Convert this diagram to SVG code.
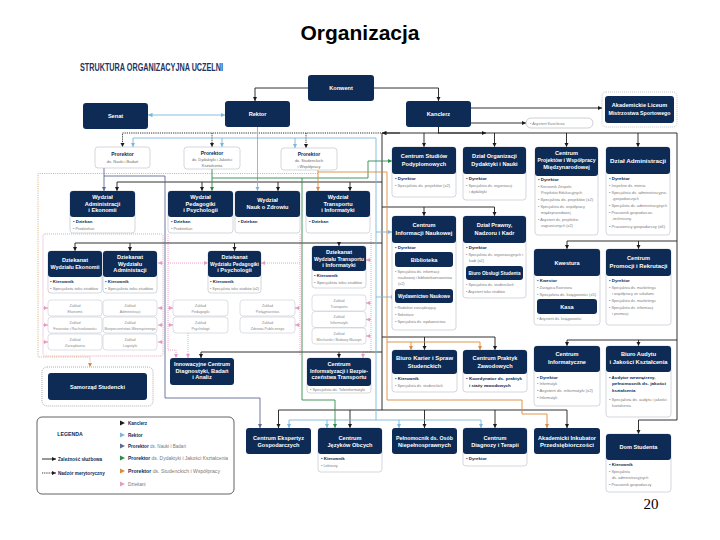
<svg xmlns="http://www.w3.org/2000/svg" width="720" height="540" viewBox="0 0 720 540">
<defs>
<style>
.n{fill:#0d2b55}
.b{fill:#fff;stroke:#b5bcc7;stroke-width:.6}
.zb{fill:#fff;stroke:#b9bfc8;stroke-width:.5}
.h{font-family:'Liberation Sans',Arial,sans-serif;font-weight:bold;font-size:5.6px;fill:#fff;text-anchor:middle}
.t{font-family:'Liberation Sans',Arial,sans-serif;font-size:3.8px;fill:#7d7d7d}
.k{font-family:'Liberation Sans',Arial,sans-serif;font-size:4.4px;font-weight:bold;fill:#0d2b55}
.z{font-family:'Liberation Sans',Arial,sans-serif;font-size:3.6px;fill:#8a8a8a;text-anchor:middle}
.pk{font-family:'Liberation Sans',Arial,sans-serif;font-size:5px;font-weight:bold;fill:#0d2b55;text-anchor:middle}
.pt{font-family:'Liberation Sans',Arial,sans-serif;font-size:4px;fill:#6b6b6b;text-anchor:middle}
.lg{font-family:'Liberation Sans',Arial,sans-serif;font-size:4.6px;fill:#7a7a7a}
.lb{font-weight:bold;fill:#0d2b55}
.c{fill:none;stroke-width:.9}
.cK{stroke:#1b1b1b}
.cR{stroke:#7cb7da}
.cN{stroke:#5d6a94}
.cG{stroke:#2f8c48}
.cO{stroke:#dc8a3b}
.cP{stroke:#e79bc2;stroke-dasharray:1 1}
.cY{stroke:#d9a45e;stroke-dasharray:1 1.2}
.d{stroke-dasharray:1.2 1}
</style>
<marker id="aK" viewBox="0 0 6 6" refX="6" refY="3" markerWidth="4.5" markerHeight="4.5" markerUnits="userSpaceOnUse" orient="auto-start-reverse"><path d="M0,0L6,3L0,6z" fill="#1b1b1b"/></marker>
<marker id="aR" viewBox="0 0 6 6" refX="6" refY="3" markerWidth="4.5" markerHeight="4.5" markerUnits="userSpaceOnUse" orient="auto-start-reverse"><path d="M0,0L6,3L0,6z" fill="#7cb7da"/></marker>
<marker id="aN" viewBox="0 0 6 6" refX="6" refY="3" markerWidth="4.5" markerHeight="4.5" markerUnits="userSpaceOnUse" orient="auto-start-reverse"><path d="M0,0L6,3L0,6z" fill="#5d6a94"/></marker>
<marker id="aG" viewBox="0 0 6 6" refX="6" refY="3" markerWidth="4.5" markerHeight="4.5" markerUnits="userSpaceOnUse" orient="auto-start-reverse"><path d="M0,0L6,3L0,6z" fill="#2f8c48"/></marker>
<marker id="aO" viewBox="0 0 6 6" refX="6" refY="3" markerWidth="4.5" markerHeight="4.5" markerUnits="userSpaceOnUse" orient="auto-start-reverse"><path d="M0,0L6,3L0,6z" fill="#dc8a3b"/></marker>
<marker id="aP" viewBox="0 0 6 6" refX="6" refY="3" markerWidth="4" markerHeight="4" markerUnits="userSpaceOnUse" orient="auto-start-reverse"><path d="M0,0L6,3L0,6z" fill="#e79bc2"/></marker>
</defs>
<rect width="720" height="540" fill="#fff"/>
<text x="360" y="40" text-anchor="middle" font-family="'Liberation Sans',Arial,sans-serif" font-weight="bold" font-size="21" fill="#000">Organizacja</text>
<text x="80" y="70.5" font-family="'Liberation Sans',Arial,sans-serif" font-weight="bold" font-size="10.5" fill="#1c3461" textLength="143" lengthAdjust="spacingAndGlyphs">STRUKTURA ORGANIZACYJNA UCZELNI</text>

<g id="connectors">
<rect class="c cP" x="43" y="234" width="120" height="122" rx="2"/>
<path class="c cP" d="M43,308H48" marker-end="url(#aP)"/>
<path class="c cP" d="M43,325H48" marker-end="url(#aP)"/>
<path class="c cP" d="M43,342H48" marker-end="url(#aP)"/>
<path class="c cP" d="M163,263H158" marker-end="url(#aP)"/>
<path class="c cP" d="M163,308H158" marker-end="url(#aP)"/>
<path class="c cP" d="M163,325H158" marker-end="url(#aP)"/>
<path class="c cP" d="M163,342H158" marker-end="url(#aP)"/>
<path class="c cP" d="M168,234V350H176V358" marker-end="url(#aP)"/>
<path class="c cP" d="M168,263H208" marker-end="url(#aP)"/>
<path class="c cP" d="M168,308H173" marker-end="url(#aP)"/>
<path class="c cP" d="M168,325H173" marker-end="url(#aP)"/>
<path class="c cP" d="M188,333V358" marker-end="url(#aP)"/>
<path class="c cP" d="M300,234V355"/>
<path class="c cP" d="M300,263H261" marker-end="url(#aP)"/>
<path class="c cP" d="M300,308H295" marker-end="url(#aP)"/>
<path class="c cP" d="M300,325H295" marker-end="url(#aP)"/>
<path class="c cP" d="M371,233V352H363V358" marker-end="url(#aP)"/>
<path class="c cP" d="M371,260H366" marker-end="url(#aP)"/>
<path class="c cP" d="M371,303H366" marker-end="url(#aP)"/>
<path class="c cP" d="M371,319.5H366" marker-end="url(#aP)"/>
<path class="c cP" d="M371,336H366" marker-end="url(#aP)"/>
<path class="c cY" d="M318,173.5H38V357H90V367" marker-end="url(#aO)"/>
<path class="c cK" d="M308,88H255V101" marker-end="url(#aK)"/>
<path class="c cK" d="M374,88H438.5V101" marker-end="url(#aK)"/>
<path class="c cK" d="M471,108H602" marker-end="url(#aK)"/>
<path class="c cK" d="M471,123H526" marker-end="url(#aK)"/>
<path class="c cK" d="M438.5,127V133H382"/>
<path class="c cK" d="M400,133H382" marker-end="url(#aK)"/>
<path class="c cK" d="M438,133H486" marker-end="url(#aK)"/>
<path class="c cK" d="M438,133H677V420H638.5V434" marker-end="url(#aK)"/>
<path class="c cK" d="M424,133V147" marker-end="url(#aK)"/>
<path class="c cK" d="M494.5,133V147" marker-end="url(#aK)"/>
<path class="c cK" d="M566.5,133V147" marker-end="url(#aK)"/>
<path class="c cK" d="M638,133V147" marker-end="url(#aK)"/>
<path class="c cK" d="M677,241H567V249" marker-end="url(#aK)"/>
<path class="c cK" d="M638.5,241V249" marker-end="url(#aK)"/>
<path class="c cK" d="M677,340H567V346" marker-end="url(#aK)"/>
<path class="c cK" d="M638.5,340V346" marker-end="url(#aK)"/>
<path class="c cK" d="M382,133V410"/>
<path class="c cK" d="M382,182H117V191" marker-end="url(#aK)"/>
<path class="c cK" d="M202,182V191" marker-end="url(#aK)"/>
<path class="c cK" d="M278,182V191" marker-end="url(#aK)"/>
<path class="c cK" d="M350,182V191" marker-end="url(#aK)"/>
<path class="c cK" d="M382,207H494.5V216" marker-end="url(#aK)"/>
<path class="c cK" d="M424,207V216" marker-end="url(#aK)"/>
<path class="c cK" d="M382,243H75V251" marker-end="url(#aK)"/>
<path class="c cK" d="M130,243V251" marker-end="url(#aK)"/>
<path class="c cK" d="M234.5,243V251" marker-end="url(#aK)"/>
<path class="c cK" d="M339,243V246" marker-end="url(#aK)"/>
<path class="c cK" d="M382,337H495V350" marker-end="url(#aK)"/>
<path class="c cK" d="M424.5,337V350" marker-end="url(#aK)"/>
<path class="c cK" d="M382,352H201V358" marker-end="url(#aK)"/>
<path class="c cK" d="M339,352V358" marker-end="url(#aK)"/>
<path class="c cK" d="M278.5,410H567V428" marker-end="url(#aK)"/>
<path class="c cK" d="M278.5,410V428" marker-end="url(#aK)"/>
<path class="c cK" d="M350,410V428" marker-end="url(#aK)"/>
<path class="c cK" d="M424.5,410V428" marker-end="url(#aK)"/>
<path class="c cK" d="M495,410V428" marker-end="url(#aK)"/>
<path class="c cK d" d="M381,133H122.5V147" marker-end="url(#aK)"/>
<path class="c cK d" d="M212,133V147" marker-end="url(#aK)"/>
<path class="c cK d" d="M306,133V148" marker-end="url(#aK)"/>
<path class="c cR" d="M225,115H148" marker-start="url(#aR)" marker-end="url(#aR)"/>
<path class="c cR" d="M257.5,127V191" marker-end="url(#aR)"/>
<path class="c cR" d="M376,138H133V147" marker-end="url(#aR)"/>
<path class="c cR" d="M222,138V147" marker-end="url(#aR)"/>
<path class="c cR" d="M295,138V148" marker-end="url(#aR)"/>
<path class="c cR" d="M376,138V420"/>
<path class="c cR" d="M289,420H481V428" marker-end="url(#aR)"/>
<path class="c cR" d="M289,420V428" marker-end="url(#aR)"/>
<path class="c cR" d="M327,420V428" marker-end="url(#aR)"/>
<path class="c cR" d="M399,420V428" marker-end="url(#aR)"/>
<path class="c cR" d="M376,232H392" marker-end="url(#aR)"/>
<path class="c cR" d="M376,297H395" marker-end="url(#aR)"/>
<path class="c cN" d="M104,168V191" marker-end="url(#aN)"/>
<path class="c cN" d="M104,176H165V398H260V428" marker-end="url(#aN)"/>
<path class="c cG" d="M212,169V191" marker-end="url(#aG)"/>
<path class="c cG" d="M212,178H368V161H392" marker-end="url(#aG)"/>
<path class="c cG" d="M302,178V400H335V428" marker-end="url(#aG)"/>
<path class="c cO" d="M318,170V191" marker-end="url(#aO)"/>
<path class="c cO" d="M318,172H387V400H522V414H547V428" marker-end="url(#aO)"/>
<path class="c cO" d="M387,342H480V350" marker-end="url(#aO)"/>
<path class="c cO" d="M411,342V350" marker-end="url(#aO)"/>
</g>

<g id="konwent"><rect class="n" x="308" y="75" width="66" height="26" rx="3"/><text class="h" x="341" y="90">Konwent</text></g>
<g id="senat"><rect class="n" x="83" y="103" width="65" height="26" rx="3"/><text class="h" x="115.5" y="118">Senat</text></g>
<g id="rektor"><rect class="n" x="225" y="101" width="65" height="26" rx="3"/><text class="h" x="257.5" y="116">Rektor</text></g>
<g id="kanclerz"><rect class="n" x="406" y="101" width="65" height="26" rx="3"/><text class="h" x="438.5" y="116">Kanclerz</text></g>
<g id="liceum"><rect x="602" y="92" width="75" height="35" rx="4" fill="none" stroke="#9aa0a8" stroke-width=".6" stroke-dasharray="1 1"/><rect class="n" x="605" y="96" width="69" height="27" rx="3"/><text class="h" x="639.5" y="107">Akademickie Liceum</text><text class="h" x="639.5" y="115" textLength="62" lengthAdjust="spacingAndGlyphs">Mistrzostwa Sportowego</text></g>
<g id="asystent-kanclerza"><rect x="526" y="118" width="67" height="10" rx="5" fill="#fff" stroke="#a8aeb6" stroke-width=".6"/><text class="t" x="530" y="124.5">• Asystent Kanclerza</text></g>

<g id="prorektor-nauki"><rect class="b" x="95" y="147" width="55" height="21" rx="3"/><text class="pk" x="122.5" y="156">Prorektor</text><text class="pt" x="122.5" y="163">ds. Nauki i Badań</text></g>
<g id="prorektor-dydaktyki"><rect class="b" x="184" y="147" width="56" height="22" rx="3"/><text class="pk" x="212" y="155">Prorektor</text><text class="pt" x="212" y="161">ds. Dydaktyki i Jakości</text><text class="pt" x="212" y="166.5">Kształcenia</text></g>
<g id="prorektor-studenckich"><rect class="b" x="281" y="148" width="56" height="22" rx="3"/><text class="pk" x="309" y="156">Prorektor</text><text class="pt" x="309" y="162">ds. Studenckich</text><text class="pt" x="309" y="167.5">i Współpracy</text></g>

<g id="wydzial-administracji"><rect class="b" x="70" y="191" width="65" height="42" rx="3"/><rect class="n" x="70" y="191" width="65" height="26" rx="3"/><text class="h" x="102.5" y="199">Wydział</text><text class="h" x="102.5" y="205.5">Administracji</text><text class="h" x="102.5" y="212">i Ekonomii</text><text class="k" x="73" y="223">• Dziekan</text><text class="t" x="73" y="229.5">• Prodziekan</text></g>
<g id="wydzial-pedagogiki"><rect class="b" x="168" y="191" width="65" height="42" rx="3"/><rect class="n" x="168" y="191" width="65" height="26" rx="3"/><text class="h" x="200.5" y="199">Wydział</text><text class="h" x="200.5" y="205.5">Pedagogiki</text><text class="h" x="200.5" y="212">i Psychologii</text><text class="k" x="171" y="223">• Dziekan</text><text class="t" x="171" y="229.5">• Prodziekan</text></g>
<g id="wydzial-zdrowia"><rect class="b" x="235" y="191" width="65" height="42" rx="3"/><rect class="n" x="235" y="191" width="65" height="26" rx="3"/><text class="h" x="267.5" y="202">Wydział</text><text class="h" x="267.5" y="209">Nauk o Zdrowiu</text><text class="k" x="238" y="223">• Dziekan</text></g>
<g id="wydzial-transportu"><rect class="b" x="306" y="191" width="64" height="42" rx="3"/><rect class="n" x="306" y="191" width="64" height="26" rx="3"/><text class="h" x="338" y="199">Wydział</text><text class="h" x="338" y="205.5">Transportu</text><text class="h" x="338" y="212">i Informatyki</text><text class="k" x="309" y="223">• Dziekan</text></g>

<g id="dziekanat-ekonomii"><rect class="b" x="48" y="251" width="54" height="42" rx="3"/><rect class="n" x="48" y="251" width="54" height="26" rx="3"/><text class="h" x="75" y="262">Dziekanat</text><text class="h" x="75" y="269" textLength="49" lengthAdjust="spacingAndGlyphs">Wydziału Ekonomii</text><text class="k" x="50" y="283">• Kierownik</text><text class="t" x="50" y="289.5" textLength="48" lengthAdjust="spacingAndGlyphs">• Specjalista toku studiów</text></g>
<g id="dziekanat-administracji"><rect class="b" x="103" y="251" width="54" height="42" rx="3"/><rect class="n" x="103" y="251" width="54" height="26" rx="3"/><text class="h" x="130" y="259">Dziekanat</text><text class="h" x="130" y="265.5">Wydziału</text><text class="h" x="130" y="272">Administacji</text><text class="k" x="105" y="283">• Kierownik</text><text class="t" x="105" y="289.5" textLength="48" lengthAdjust="spacingAndGlyphs">• Specjalista toku studiów</text></g>
<g id="zaklady-wae">
<rect class="zb" x="48" y="300" width="54" height="16" rx="3"/><text class="z" x="75" y="306.5">Zakład</text><text class="z" x="75" y="312.5">Ekonomii</text>
<rect class="zb" x="103" y="300" width="54" height="16" rx="3"/><text class="z" x="130" y="306.5">Zakład</text><text class="z" x="130" y="312.5">Administracji</text>
<rect class="zb" x="48" y="317" width="54" height="16" rx="3"/><text class="z" x="75" y="323.5">Zakład</text><text class="z" x="75" y="329.5">Finansów i Rachunkowości</text>
<rect class="zb" x="103" y="317" width="54" height="16" rx="3"/><text class="z" x="130" y="323.5">Zakład</text><text class="z" x="130" y="329.5" textLength="51" lengthAdjust="spacingAndGlyphs">Bezpieczeństwa Wewnętrznego</text>
<rect class="zb" x="48" y="334" width="54" height="16" rx="3"/><text class="z" x="75" y="340.5">Zakład</text><text class="z" x="75" y="346.5">Zarządzania</text>
<rect class="zb" x="103" y="334" width="54" height="16" rx="3"/><text class="z" x="130" y="340.5">Zakład</text><text class="z" x="130" y="346.5">Logistyki</text>
</g>
<g id="dziekanat-pedagogiki"><rect class="b" x="208" y="251" width="53" height="42" rx="3"/><rect class="n" x="208" y="251" width="53" height="26" rx="3"/><text class="h" x="234.5" y="259">Dziekanat</text><text class="h" x="234.5" y="265.5" textLength="49" lengthAdjust="spacingAndGlyphs">Wydziału Pedagogiki</text><text class="h" x="234.5" y="272">i Psychologii</text><text class="k" x="210" y="283">• Kierownik</text><text class="t" x="210" y="289.5" textLength="49" lengthAdjust="spacingAndGlyphs">• Specjalista toku studiów (x2)</text></g>
<g id="zaklady-wpp">
<rect class="zb" x="173" y="300" width="55" height="16" rx="3"/><text class="z" x="200.5" y="306.5">Zakład</text><text class="z" x="200.5" y="312.5">Pedagogiki</text>
<rect class="zb" x="173" y="317" width="55" height="16" rx="3"/><text class="z" x="200.5" y="323.5">Zakład</text><text class="z" x="200.5" y="329.5">Psychologii</text>
<rect class="zb" x="240" y="300" width="55" height="16" rx="3"/><text class="z" x="267.5" y="306.5">Zakład</text><text class="z" x="267.5" y="312.5">Pielęgniarstwa</text>
<rect class="zb" x="240" y="317" width="55" height="16" rx="3"/><text class="z" x="267.5" y="323.5">Zakład</text><text class="z" x="267.5" y="329.5">Zdrowia Publicznego</text>
</g>
<g id="dziekanat-transportu"><rect class="b" x="312" y="246" width="54" height="42" rx="3"/><rect class="n" x="312" y="246" width="54" height="25" rx="3"/><text class="h" x="339" y="254">Dziekanat</text><text class="h" x="339" y="260.5" textLength="50" lengthAdjust="spacingAndGlyphs">Wydziału Transportu</text><text class="h" x="339" y="267">i Informatyki</text><text class="k" x="314" y="277">• Kierownik</text><text class="t" x="314" y="283.5" textLength="48" lengthAdjust="spacingAndGlyphs">• Specjalista toku studiów</text></g>
<g id="zaklady-wti">
<rect class="zb" x="312" y="295" width="54" height="16" rx="3"/><text class="z" x="339" y="301.5">Zakład</text><text class="z" x="339" y="307.5">Transportu</text>
<rect class="zb" x="312" y="311.5" width="54" height="16" rx="3"/><text class="z" x="339" y="318">Zakład</text><text class="z" x="339" y="324">Informatyki</text>
<rect class="zb" x="312" y="328" width="54" height="16" rx="3"/><text class="z" x="339" y="334.5">Zakład</text><text class="z" x="339" y="340.5">Mechaniki i Budowy Maszyn</text>
</g>

<g id="innowacyjne-centrum"><rect class="n" x="170" y="358" width="64" height="27" rx="3"/><text class="h" x="202" y="366" textLength="56" lengthAdjust="spacingAndGlyphs">Innowacyjne Centrum</text><text class="h" x="202" y="372.5" textLength="53" lengthAdjust="spacingAndGlyphs">Diagnostyki, Badań</text><text class="h" x="202" y="379">i Analiz</text></g>
<g id="centrum-informatyzacji"><rect class="b" x="307" y="358" width="64" height="35" rx="3"/><rect class="n" x="307" y="358" width="64" height="28" rx="3"/><text class="h" x="339" y="366">Centrum</text><text class="h" x="339" y="372.5" textLength="58" lengthAdjust="spacingAndGlyphs">Informatyzacji i Bezpie-</text><text class="h" x="339" y="379" textLength="55" lengthAdjust="spacingAndGlyphs">czeństwa Transportu</text><text class="t" x="310" y="391" textLength="55" lengthAdjust="spacingAndGlyphs">• Specjalista ds. Teleinformatyki</text></g>
<g id="samorzad"><rect x="42" y="367" width="111" height="39" rx="5" fill="none" stroke="#777" stroke-width=".6" stroke-dasharray="1 1"/><rect class="n" x="48" y="373" width="99" height="27" rx="3"/><text class="h" x="97.5" y="389">Samorząd Studencki</text></g>

<g id="centrum-studiow-podyplomowych"><rect class="b" x="392" y="147" width="64" height="50" rx="3"/><rect class="n" x="392" y="147" width="64" height="27" rx="3"/><text class="h" x="424" y="158">Centrum Studiów</text><text class="h" x="424" y="165.5">Podyplomowych</text><text class="k" x="395" y="180">• Dyrektor</text><text class="t" x="395" y="187" textLength="55" lengthAdjust="spacingAndGlyphs">• Specjalista ds. projektów (x2)</text></g>
<g id="dzial-organizacji"><rect class="b" x="463" y="147" width="63" height="53" rx="3"/><rect class="n" x="463" y="147" width="63" height="27" rx="3"/><text class="h" x="494.5" y="158">Dział Organizacji</text><text class="h" x="494.5" y="165.5">Dydaktyki i Nauki</text><text class="k" x="466" y="180">• Dyrektor</text><text class="t" x="466" y="187">• Specjalista ds. organizacji</text><text class="t" x="469" y="193">i dydaktyki</text></g>
<g id="centrum-projektow"><rect class="b" x="535" y="147" width="63" height="88" rx="3"/><rect class="n" x="535" y="147" width="63" height="29" rx="3"/><text class="h" x="566.5" y="155">Centrum</text><text class="h" x="566.5" y="162" textLength="58" lengthAdjust="spacingAndGlyphs">Projektów i Współpracy</text><text class="h" x="566.5" y="169">Międzynarodowej</text><text class="k" x="538" y="181">• Dyrektor</text><text class="t" x="538" y="187.5">• Kierownik Zespołu</text><text class="t" x="541" y="193.5">Projektów Edukacyjnych</text><text class="t" x="538" y="200.5" textLength="55" lengthAdjust="spacingAndGlyphs">• Specjalista ds. projektów (x2)</text><text class="t" x="538" y="207.5">• Specjalista ds. współpracy</text><text class="t" x="541" y="213.5">międzynarodowej</text><text class="t" x="538" y="221">• Asystent ds. projektów</text><text class="t" x="541" y="227">zagranicznych (x2)</text></g>
<g id="dzial-administracji"><rect class="b" x="606" y="147" width="64" height="88" rx="3"/><rect class="n" x="606" y="147" width="64" height="27" rx="3"/><text class="h" x="638" y="162.5" textLength="56" lengthAdjust="spacingAndGlyphs">Dział Administracji</text><text class="k" x="609" y="180">• Dyrektor</text><text class="t" x="609" y="187">• Inspektor ds. mienia</text><text class="t" x="609" y="194" textLength="58" lengthAdjust="spacingAndGlyphs">• Specjalista ds. administracyjno-</text><text class="t" x="612" y="200">-gospodarczych</text><text class="t" x="609" y="207" textLength="58" lengthAdjust="spacingAndGlyphs">• Specjalista ds. administracyjnych</text><text class="t" x="609" y="214">• Pracownik gospodarczo-</text><text class="t" x="612" y="220">-techniczny</text><text class="t" x="609" y="228" textLength="56" lengthAdjust="spacingAndGlyphs">• Pracownicy gospodarczy (x6)</text></g>

<g id="centrum-informacji-naukowej"><rect class="b" x="392" y="216" width="64" height="114" rx="3"/><rect class="n" x="392" y="216" width="64" height="27" rx="3"/><text class="h" x="424" y="227">Centrum</text><text class="h" x="424" y="234.5" textLength="57" lengthAdjust="spacingAndGlyphs">Informacji Naukowej</text><text class="k" x="395" y="249">• Dyrektor</text><rect class="n" x="395" y="252" width="58" height="15" rx="3"/><text class="h" x="424" y="261.5">Biblioteka</text><text class="t" x="395" y="273">• Specjalista ds. informacji</text><text class="t" x="398" y="279" textLength="54" lengthAdjust="spacingAndGlyphs">naukowej i bibliotekoznawstwa</text><text class="t" x="398" y="285">(x2)</text><rect class="n" x="395" y="289" width="58" height="14" rx="3"/><text class="h" x="424" y="298" textLength="52" lengthAdjust="spacingAndGlyphs">Wydawnictwo Naukowe</text><text class="t" x="395" y="309">• Redaktor zarządzający</text><text class="t" x="395" y="316">• Sekretarz</text><text class="t" x="395" y="323">• Specjalista ds. wydawnictwa</text></g>
<g id="dzial-prawny"><rect class="b" x="463" y="216" width="63" height="82" rx="3"/><rect class="n" x="463" y="216" width="63" height="27" rx="3"/><text class="h" x="494.5" y="227">Dział Prawny,</text><text class="h" x="494.5" y="234.5">Nadzoru i Kadr</text><text class="k" x="466" y="249">• Dyrektor</text><text class="t" x="466" y="255.5" textLength="57" lengthAdjust="spacingAndGlyphs">• Specjalista ds. organizacyjnych i</text><text class="t" x="469" y="261.5">kadr (x2)</text><rect class="n" x="466" y="266" width="57" height="14" rx="3"/><text class="h" x="494.5" y="275" textLength="52" lengthAdjust="spacingAndGlyphs">Biuro Obsługi Studenta</text><text class="t" x="466" y="286">• Specjalista ds. studenckich</text><text class="t" x="466" y="292.5">• Asystent toku studiów</text></g>
<g id="kwestura"><rect class="b" x="534" y="249" width="66" height="76" rx="3"/><rect class="n" x="534" y="249" width="66" height="27" rx="3"/><text class="h" x="567" y="264.5">Kwestura</text><text class="k" x="537" y="282">• Kwestor</text><text class="t" x="537" y="288.5">• Zastępca Kwestora</text><text class="t" x="537" y="295.5" textLength="59" lengthAdjust="spacingAndGlyphs">• Specjalista ds. księgowości (x5)</text><rect class="n" x="537" y="299" width="60" height="15" rx="3"/><text class="h" x="567" y="308.5">Kasa</text><text class="t" x="537" y="319.5">• Asystent ds. księgowości</text></g>
<g id="centrum-promocji"><rect class="b" x="606" y="249" width="65" height="76" rx="3"/><rect class="n" x="606" y="249" width="65" height="27" rx="3"/><text class="h" x="638.5" y="260">Centrum</text><text class="h" x="638.5" y="267.5" textLength="58" lengthAdjust="spacingAndGlyphs">Promocji i Rekrutacji</text><text class="k" x="609" y="282">• Dyrektor</text><text class="t" x="609" y="288.5">• Specjalista ds. marketingu</text><text class="t" x="612" y="294.5">i współpracy ze szkołami</text><text class="t" x="609" y="301.5">• Specjalista ds. marketingu</text><text class="t" x="609" y="308.5">• Specjalista ds. informacji</text><text class="t" x="612" y="314.5">i promocji</text></g>

<g id="biuro-karier"><rect class="b" x="392" y="350" width="65" height="42" rx="3"/><rect class="n" x="392" y="350" width="65" height="24" rx="3"/><text class="h" x="424.5" y="360" textLength="57" lengthAdjust="spacingAndGlyphs">Biuro Karier i Spraw</text><text class="h" x="424.5" y="367.5">Studenckich</text><text class="k" x="395" y="380">• Kierownik</text><text class="t" x="395" y="387">• Specjalista ds. studenckich</text></g>
<g id="centrum-praktyk"><rect class="b" x="463" y="350" width="64" height="42" rx="3"/><rect class="n" x="463" y="350" width="64" height="24" rx="3"/><text class="h" x="495" y="360">Centrum Praktyk</text><text class="h" x="495" y="367.5">Zawodowych</text><text class="k" x="466" y="380" textLength="56" lengthAdjust="spacingAndGlyphs">• Koordynator ds. praktyk</text><text class="k" x="469" y="386.5">i staży zawodowych</text></g>
<g id="centrum-informatyczne"><rect class="b" x="534" y="346" width="66" height="60" rx="3"/><rect class="n" x="534" y="346" width="66" height="26" rx="3"/><text class="h" x="567" y="356">Centrum</text><text class="h" x="567" y="363.5">Informatyczne</text><text class="k" x="537" y="378.5">• Dyrektor</text><text class="t" x="537" y="385">• Informatyk</text><text class="t" x="537" y="392" textLength="56" lengthAdjust="spacingAndGlyphs">• Asystent ds. informatyki (x2)</text><text class="t" x="537" y="399">• Informatyk</text></g>
<g id="biuro-audytu"><rect class="b" x="606" y="346" width="65" height="71" rx="3"/><rect class="n" x="606" y="346" width="65" height="26" rx="3"/><text class="h" x="638.5" y="356">Biuro Audytu</text><text class="h" x="638.5" y="363.5" textLength="58" lengthAdjust="spacingAndGlyphs">i Jakości Kształcenia</text><text class="k" x="609" y="378.5">• Audytor wewnętrzny,</text><text class="k" x="612" y="385" textLength="54" lengthAdjust="spacingAndGlyphs">pełnomocnik ds. jakości</text><text class="k" x="612" y="391.5">kształcenia</text><text class="t" x="609" y="400.5" textLength="58" lengthAdjust="spacingAndGlyphs">• Specjalista ds. audytu i jakości</text><text class="t" x="612" y="406.5">kształcenia</text></g>

<g id="centrum-ekspertyz"><rect class="n" x="246" y="428" width="65" height="26" rx="3"/><text class="h" x="278.5" y="439.5">Centrum Ekspertyz</text><text class="h" x="278.5" y="447">Gospodarczych</text></g>
<g id="centrum-jezykow"><rect class="b" x="318" y="428" width="64" height="44" rx="3"/><rect class="n" x="318" y="428" width="64" height="26" rx="3"/><text class="h" x="350" y="439.5">Centrum</text><text class="h" x="350" y="447">Języków Obcych</text><text class="k" x="321" y="460">• Kierownik</text><text class="t" x="321" y="467">• Lektorzy</text></g>
<g id="pelnomocnik"><rect class="n" x="392" y="428" width="65" height="26" rx="3"/><text class="h" x="424.5" y="439.5" textLength="57" lengthAdjust="spacingAndGlyphs">Pełnomocnik ds. Osób</text><text class="h" x="424.5" y="447">Niepełnosprawnych</text></g>
<g id="centrum-diagnozy"><rect class="b" x="463" y="428" width="64" height="38" rx="3"/><rect class="n" x="463" y="428" width="64" height="26" rx="3"/><text class="h" x="495" y="439.5">Centrum</text><text class="h" x="495" y="447">Diagnozy i Terapii</text><text class="k" x="466" y="460">• Dyrektor</text></g>
<g id="inkubator"><rect class="n" x="534" y="428" width="66" height="26" rx="3"/><text class="h" x="567" y="439.5" textLength="58" lengthAdjust="spacingAndGlyphs">Akademicki Inkubator</text><text class="h" x="567" y="447" textLength="54" lengthAdjust="spacingAndGlyphs">Przedsiębiorczości</text></g>
<g id="dom-studenta"><rect class="b" x="606" y="434" width="65" height="58" rx="3"/><rect class="n" x="606" y="434" width="65" height="26" rx="3"/><text class="h" x="638.5" y="449">Dom Studenta</text><text class="k" x="609" y="466">• Kierownik</text><text class="t" x="609" y="473">• Specjalista</text><text class="t" x="612" y="479">ds. administracyjnych</text><text class="t" x="609" y="486">• Pracownik gospodarczy</text></g>

<g id="legenda">
<rect x="37" y="417" width="197" height="77" rx="5" fill="#fff" stroke="#3a3a3a" stroke-width=".8"/>
<text x="70" y="436" text-anchor="middle" font-family="'Liberation Sans',Arial,sans-serif" font-weight="bold" font-size="5.2" fill="#0d2b55">LEGENDA</text>
<path class="c cK" d="M42,459H56" marker-end="url(#aK)"/>
<text class="lg lb" x="58" y="461">Zależność służbowa</text>
<path class="c cK d" d="M42,473H56" marker-end="url(#aK)"/>
<text class="lg lb" x="58" y="475">Nadzór merytoryczny</text>
<polygon points="120,420.5 125,423 120,425.5" fill="#1b1b1b"/><text class="lg lb" x="128" y="425">Kanclerz</text>
<polygon points="120,432.5 125,435 120,437.5" fill="#7cb7da"/><text class="lg lb" x="128" y="437">Rektor</text>
<polygon points="120,443.5 125,446 120,448.5" fill="#5d6a94"/><text class="lg" x="128" y="448"><tspan class="lb">Prorektor</tspan> ds. Nauki i Badań</text>
<polygon points="120,455.5 125,458 120,460.5" fill="#2f8c48"/><text class="lg" x="128" y="460" textLength="100" lengthAdjust="spacingAndGlyphs"><tspan class="lb">Prorektor</tspan> ds. Dydaktyki i Jakości Kształcenia</text>
<polygon points="120,468.5 125,471 120,473.5" fill="#dc8a3b"/><text class="lg" x="128" y="473" textLength="92" lengthAdjust="spacingAndGlyphs"><tspan class="lb">Prorektor</tspan> ds. Studenckich i Współpracy</text>
<polygon points="120,481.5 125,484 120,486.5" fill="#e79bc2"/><text class="lg" x="128" y="486">Dziekani</text>
</g>
<text x="651" y="509" text-anchor="middle" font-family="'Liberation Serif','Times New Roman',serif" font-size="15" fill="#000">20</text>
</svg>
